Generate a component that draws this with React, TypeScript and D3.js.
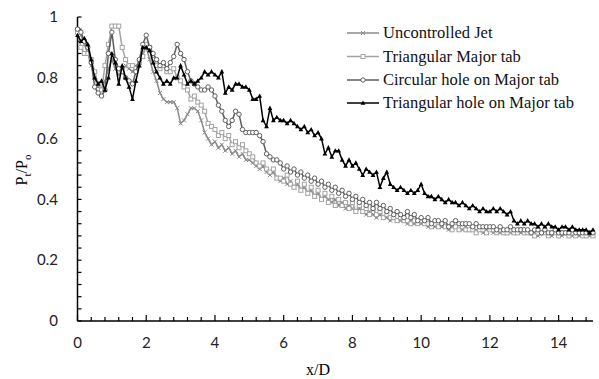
import React, { useRef, useEffect } from 'react';
import * as d3 from 'd3';

// x/D stations, 0 .. 15 every 0.1
const xD: number[] = d3.range(0, 151).map((i) => i / 10);

const uncontrolled = [
  0.96, 0.94, 0.91, 0.88, 0.84, 0.80, 0.77, 0.76, 0.79, 0.83,
  0.86, 0.83, 0.81, 0.82, 0.84, 0.83, 0.82, 0.84, 0.85, 0.88,
  0.90, 0.86, 0.82, 0.79, 0.75, 0.73, 0.72, 0.72, 0.72, 0.70,
  0.65, 0.66, 0.68, 0.70, 0.70, 0.69, 0.66, 0.62, 0.60, 0.58,
  0.59, 0.57, 0.58, 0.56, 0.57, 0.55, 0.56, 0.54, 0.55, 0.53,
  0.53, 0.52, 0.51, 0.50, 0.51, 0.49, 0.48, 0.49, 0.47, 0.46,
  0.47, 0.45, 0.46, 0.44, 0.45, 0.43, 0.44, 0.42, 0.43, 0.41,
  0.42, 0.40, 0.41, 0.40, 0.39, 0.40, 0.38, 0.39, 0.37, 0.38,
  0.37, 0.36, 0.37, 0.36, 0.35, 0.36, 0.35, 0.34, 0.35, 0.34,
  0.34, 0.33, 0.34, 0.33, 0.33, 0.33, 0.32, 0.33, 0.32, 0.32,
  0.32, 0.32, 0.31, 0.32, 0.31, 0.31, 0.31, 0.31, 0.30, 0.31,
  0.31, 0.30, 0.30, 0.31, 0.30, 0.30, 0.30, 0.30, 0.29, 0.30,
  0.30, 0.29, 0.30, 0.29, 0.29, 0.30, 0.29, 0.29, 0.29, 0.29,
  0.29, 0.29, 0.29, 0.29, 0.28, 0.29, 0.29, 0.29, 0.28, 0.29,
  0.29, 0.28, 0.29, 0.29, 0.28, 0.29, 0.28, 0.29, 0.28, 0.28,
  0.28,
];

const triMajorTab = [
  0.95, 0.90, 0.88, 0.88, 0.86, 0.82, 0.78, 0.76, 0.84, 0.91,
  0.97, 0.97, 0.97, 0.90, 0.86, 0.84, 0.84, 0.83, 0.85, 0.87,
  0.91, 0.90, 0.86, 0.84, 0.83, 0.84, 0.82, 0.82, 0.83, 0.80,
  0.79, 0.77, 0.76, 0.73, 0.74, 0.72, 0.71, 0.69, 0.65, 0.64,
  0.63, 0.61, 0.62, 0.60, 0.61, 0.58, 0.59, 0.57, 0.58, 0.56,
  0.55, 0.54, 0.52, 0.51, 0.52, 0.50, 0.49, 0.50, 0.47, 0.47,
  0.46, 0.48, 0.45, 0.44, 0.46, 0.43, 0.45, 0.42, 0.44, 0.41,
  0.43, 0.40, 0.42, 0.39, 0.41, 0.38, 0.40, 0.38, 0.39, 0.37,
  0.39, 0.36, 0.38, 0.36, 0.37, 0.35, 0.37, 0.35, 0.36, 0.34,
  0.35, 0.34, 0.34, 0.33, 0.34, 0.33, 0.33, 0.32, 0.33, 0.32,
  0.33, 0.32, 0.32, 0.31, 0.32, 0.31, 0.32, 0.31, 0.31, 0.30,
  0.31, 0.30, 0.31, 0.30, 0.30, 0.30, 0.29, 0.30, 0.30, 0.29,
  0.30, 0.30, 0.29, 0.30, 0.29, 0.29, 0.30, 0.29, 0.29, 0.30,
  0.29, 0.29, 0.29, 0.28, 0.29, 0.29, 0.29, 0.28, 0.29, 0.29,
  0.28, 0.29, 0.29, 0.28, 0.29, 0.28, 0.29, 0.28, 0.28, 0.29,
  0.28,
];

const circHole = [
  0.96, 0.95, 0.92, 0.90, 0.85, 0.77, 0.75, 0.74, 0.76, 0.88,
  0.95, 0.86, 0.83, 0.82, 0.80, 0.79, 0.78, 0.82, 0.86, 0.91,
  0.94, 0.90, 0.88, 0.86, 0.84, 0.85, 0.83, 0.85, 0.87, 0.91,
  0.88, 0.86, 0.82, 0.79, 0.78, 0.77, 0.76, 0.76, 0.77, 0.76,
  0.74, 0.71, 0.69, 0.66, 0.64, 0.66, 0.69, 0.68, 0.63, 0.62,
  0.62, 0.62, 0.62, 0.61, 0.59, 0.55, 0.54, 0.53, 0.53, 0.52,
  0.50, 0.51, 0.49, 0.50, 0.48, 0.49, 0.47, 0.48, 0.46, 0.47,
  0.45, 0.46, 0.44, 0.45, 0.43, 0.44, 0.42, 0.43, 0.41, 0.42,
  0.40, 0.41, 0.39, 0.40, 0.38, 0.39, 0.37, 0.39, 0.37, 0.38,
  0.36, 0.37, 0.35, 0.36, 0.35, 0.34, 0.36, 0.34, 0.35, 0.33,
  0.34, 0.33, 0.34, 0.32, 0.33, 0.33, 0.32, 0.33, 0.31, 0.32,
  0.33, 0.32, 0.32, 0.32, 0.32, 0.31, 0.32, 0.31, 0.31, 0.31,
  0.31, 0.31, 0.30, 0.31, 0.30, 0.30, 0.31, 0.30, 0.30, 0.30,
  0.30, 0.30, 0.29, 0.30, 0.30, 0.29, 0.30, 0.29, 0.29, 0.30,
  0.29, 0.29, 0.29, 0.29, 0.30, 0.29, 0.29, 0.29, 0.29, 0.29,
  0.29,
];

const triHole = [
  0.94, 0.92, 0.93, 0.91, 0.86, 0.80, 0.78, 0.79, 0.76, 0.80,
  0.88, 0.85, 0.78, 0.84, 0.80, 0.77, 0.73, 0.79, 0.84, 0.90,
  0.90, 0.89, 0.85, 0.82, 0.80, 0.78, 0.79, 0.78, 0.80, 0.80,
  0.84, 0.81, 0.78, 0.79, 0.78, 0.79, 0.80, 0.82, 0.81, 0.82,
  0.81, 0.80, 0.82, 0.75, 0.77, 0.76, 0.78, 0.78, 0.77, 0.77,
  0.76, 0.73, 0.73, 0.74, 0.66, 0.64, 0.70, 0.66, 0.67, 0.66,
  0.66, 0.65, 0.66, 0.65, 0.64, 0.63, 0.64, 0.62, 0.63, 0.61,
  0.62, 0.60, 0.55, 0.57, 0.54, 0.56, 0.56, 0.53, 0.51, 0.53,
  0.51, 0.52, 0.50, 0.48, 0.50, 0.49, 0.48, 0.49, 0.44, 0.47,
  0.49, 0.45, 0.44, 0.43, 0.44, 0.43, 0.42, 0.43, 0.42, 0.43,
  0.45, 0.42, 0.41, 0.41, 0.40, 0.41, 0.40, 0.39, 0.40, 0.39,
  0.39, 0.38, 0.39, 0.38, 0.37, 0.38, 0.37, 0.36, 0.37, 0.36,
  0.36, 0.37, 0.36, 0.37, 0.36, 0.35, 0.36, 0.33, 0.32, 0.33,
  0.32, 0.33, 0.32, 0.32, 0.31, 0.32, 0.31, 0.32, 0.31, 0.31,
  0.30, 0.31, 0.31, 0.30, 0.31, 0.30, 0.30, 0.30, 0.30, 0.29,
  0.30,
];

const seriesNames = [
  'Uncontrolled Jet',
  'Triangular Major tab',
  'Circular hole on Major tab',
  'Triangular hole on Major tab',
];
const seriesValues = [uncontrolled, triMajorTab, circHole, triHole];
const seriesColors = ['#8a8a8a', '#a3a3a3', '#5e5e5e', '#000000'];
const seriesMarkers = ['cross', 'square', 'circle', 'triangle'];

const xTicks = [0, 2, 4, 6, 8, 10, 12, 14];
const yTicks = [0, 0.2, 0.4, 0.6, 0.8, 1];

const App = () => {
  const svgRef = useRef<SVGSVGElement>(null);

  useEffect(() => {
    const svg = d3.select(svgRef.current);
    svg.selectAll('*').remove();

    const width = 599;
    const height = 379;
    const left = 77.5;
    const right = 593;
    const top = 17;
    const bottom = 321;

    const x = d3.scaleLinear().domain([0, 15]).range([left, right]);
    const y = d3.scaleLinear().domain([0, 1]).range([bottom, top]);

    svg.append('rect').attr('width', width).attr('height', height).style('fill', '#fff');

    const axisFont = 'Lato, "Open Sans", sans-serif';
    const serif = '"Liberation Serif", "DejaVu Serif", serif';

    // axes lines
    const axes = svg.append('g').attr('class', 'axes');
    axes.append('line')
      .attr('x1', left).attr('x2', left).attr('y1', top).attr('y2', bottom)
      .style('stroke', '#000').style('stroke-width', 1.5);
    axes.append('line')
      .attr('x1', left).attr('x2', right).attr('y1', bottom).attr('y2', bottom)
      .style('stroke', '#000').style('stroke-width', 1.5);

    // minor ticks (inside)
    const yMinor = d3.range(0, 26).map((i) => i * 0.04);
    axes.selectAll('ytick')
      .data(yMinor)
      .enter()
      .append('line')
      .attr('x1', left).attr('x2', left + 4)
      .attr('y1', (d) => y(d)).attr('y2', (d) => y(d))
      .style('stroke', '#000').style('stroke-width', 1.2);

    const xMinor = d3.range(0, 38).map((i) => i * 0.4).filter((d) => d <= 15.01);
    axes.selectAll('xtick')
      .data(xMinor)
      .enter()
      .append('line')
      .attr('x1', (d) => x(d)).attr('x2', (d) => x(d))
      .attr('y1', bottom).attr('y2', (d) => (Math.abs(d / 2 - Math.round(d / 2)) < 0.01 ? bottom - 6 : bottom - 4))
      .style('stroke', '#000').style('stroke-width', 1.2);

    axes.selectAll('ylabel')
      .data(yTicks)
      .enter()
      .append('text')
      .attr('x', 58)
      .attr('y', (d) => y(d))
      .attr('dy', '0.35em')
      .attr('text-anchor', 'end')
      .style('font-family', axisFont)
      .style('font-size', '15px')
      .style('fill', '#222')
      .text((d) => String(d));

    axes.selectAll('xlabel')
      .data(xTicks)
      .enter()
      .append('text')
      .attr('x', (d) => x(d))
      .attr('y', 348)
      .attr('text-anchor', 'middle')
      .style('font-family', axisFont)
      .style('font-size', '15px')
      .style('fill', '#222')
      .text((d) => String(d));

    // axis titles
    svg.append('text')
      .attr('x', 318).attr('y', 375)
      .attr('text-anchor', 'middle')
      .style('font-family', serif).style('font-size', '16px')
      .text('x/D');

    const yt = svg.append('text')
      .attr('transform', 'translate(27, 170) rotate(-90)')
      .attr('text-anchor', 'middle')
      .style('font-family', serif).style('font-size', '16px');
    yt.append('tspan').text('P');
    yt.append('tspan').attr('dy', 4).style('font-size', '11px').text('t');
    yt.append('tspan').attr('dy', -4).text('/P');
    yt.append('tspan').attr('dy', 4).style('font-size', '11px').text('o');

    // markers
    const drawMarker = (g: any, kind: string, cx: number, cy: number, color: string) => {
      if (kind === 'square') {
        g.append('rect').attr('x', cx - 2).attr('y', cy - 2).attr('width', 4).attr('height', 4)
          .style('fill', '#fff').style('stroke', color).style('stroke-width', 1);
      } else if (kind === 'circle') {
        g.append('circle').attr('cx', cx).attr('cy', cy).attr('r', 2.2)
          .style('fill', '#fff').style('stroke', color).style('stroke-width', 1);
      } else if (kind === 'triangle') {
        g.append('path').attr('d', `M${cx},${cy - 2.6}L${cx + 2.4},${cy + 1.8}L${cx - 2.4},${cy + 1.8}Z`)
          .style('fill', color);
      } else {
        g.append('path').attr('d', `M${cx - 2},${cy - 2}L${cx + 2},${cy + 2}M${cx - 2},${cy + 2}L${cx + 2},${cy - 2}`)
          .style('stroke', color).style('stroke-width', 1);
      }
    };

    const line = d3.line<number>()
      .x((d, i) => x(xD[i]))
      .y((d) => y(d));

    const plot = svg.append('g').attr('class', 'plot');
    seriesValues.forEach((vals, s) => {
      const g = plot.append('g');
      g.append('path')
        .attr('d', line(vals))
        .style('fill', 'none')
        .style('stroke', seriesColors[s])
        .style('stroke-width', 1.5);
      vals.forEach((v, i) => drawMarker(g, seriesMarkers[s], x(xD[i]), y(v), seriesColors[s]));
    });

    // legend
    const legend = svg.append('g').attr('class', 'legend');
    const rowY = [33, 56.5, 80, 103];
    seriesNames.forEach((name, s) => {
      const ly = rowY[s];
      legend.append('line')
        .attr('x1', 347).attr('x2', 379).attr('y1', ly).attr('y2', ly)
        .style('stroke', seriesColors[s]).style('stroke-width', 1.5);
      drawMarker(legend, seriesMarkers[s], 363, ly, seriesColors[s]);
      legend.append('text')
        .attr('x', 383).attr('y', ly)
        .attr('dy', '0.33em')
        .style('font-family', serif)
        .style('font-size', '16.5px')
        .style('fill', '#111')
        .text(name);
    });
  }, []);

  return (
    <svg ref={svgRef} width={599} height={379} style={{ position: 'absolute', left: 0, top: 0 }} />
  );
};

export default App;
